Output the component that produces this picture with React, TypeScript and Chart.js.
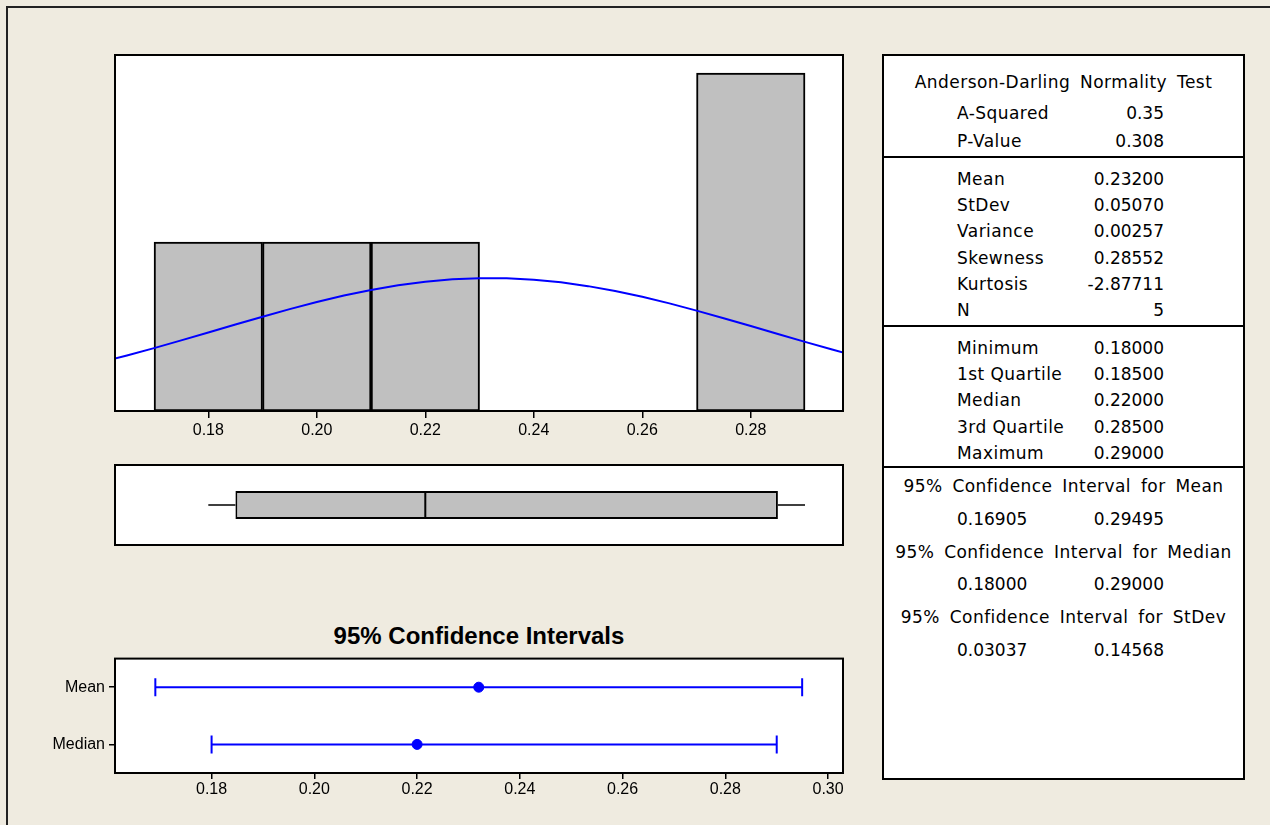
import React, { useEffect, useRef } from "react";
import { Chart, registerables } from "chart.js";
Chart.register(...registerables);

// ---------- data ----------
const binCenters = [0.18, 0.2, 0.22, 0.24, 0.26, 0.28];
const binCounts = [1, 1, 1, 0, 0, 2];
const curveX = [0.16, 0.165, 0.17, 0.175, 0.18, 0.185, 0.19, 0.195, 0.2, 0.205, 0.21, 0.215, 0.22, 0.225, 0.23, 0.235, 0.24, 0.245, 0.25, 0.255, 0.26, 0.265, 0.27, 0.275, 0.28, 0.285, 0.29, 0.295, 0.3];
const curveY = [0.287, 0.329, 0.372, 0.418, 0.465, 0.512, 0.558, 0.603, 0.645, 0.683, 0.716, 0.744, 0.765, 0.78, 0.786, 0.786, 0.777, 0.762, 0.739, 0.71, 0.676, 0.637, 0.594, 0.549, 0.503, 0.456, 0.409, 0.364, 0.32];
const histTicks = [0.18, 0.2, 0.22, 0.24, 0.26, 0.28];
const boxStats = [0.18, 0.185, 0.22, 0.285, 0.29]; // min, Q1, median, Q3, max
const ciLabels = ["Mean", "Median"];
const ciLower = [0.16905, 0.18];
const ciUpper = [0.29495, 0.29];
const ciEstimate = [0.232, 0.22];
const ciTicks = [0.18, 0.2, 0.22, 0.24, 0.26, 0.28, 0.3];

const adTitle = "Anderson-Darling Normality Test";
const adLabels = ["A-Squared", "P-Value"];
const adValues = ["0.35", "0.308"];
const descLabels = ["Mean", "StDev", "Variance", "Skewness", "Kurtosis", "N"];
const descValues = ["0.23200", "0.05070", "0.00257", "0.28552", "-2.87711", "5"];
const quantLabels = ["Minimum", "1st Quartile", "Median", "3rd Quartile", "Maximum"];
const quantValues = ["0.18000", "0.18500", "0.22000", "0.28500", "0.29000"];
const ciTableTitles = ["95% Confidence Interval for Mean", "95% Confidence Interval for Median", "95% Confidence Interval for StDev"];
const ciTableLower = ["0.16905", "0.18000", "0.03037"];
const ciTableUpper = ["0.29495", "0.29000", "0.14568"];

// ---------- styles ----------
const BG = "#EFEBE0";
const BLUE = "#0000FF";
const GREY = "#C0C0C0";
const tickFont = { family: '"Liberation Sans", Arial, sans-serif', size: 16 };

const framePlugin = {
  id: "frame",
  beforeDraw(chart: any) {
    const { ctx, chartArea: a } = chart;
    ctx.save();
    ctx.fillStyle = "#fff";
    ctx.fillRect(a.left, a.top, a.right - a.left, a.bottom - a.top);
    ctx.restore();
  },
  afterDraw(chart: any) {
    const { ctx, chartArea: a } = chart;
    ctx.save();
    ctx.strokeStyle = "#000";
    ctx.lineWidth = 2;
    ctx.strokeRect(a.left, a.top, a.right - a.left, a.bottom - a.top);
    ctx.restore();
  },
};

const boxPlugin = {
  id: "boxparts",
  afterDatasetsDraw(chart: any) {
    const { ctx } = chart;
    const xs = chart.scales.x;
    const bar = chart.getDatasetMeta(0).data[0];
    if (!bar) return;
    const y = bar.y;
    const h = bar.height;
    ctx.save();
    ctx.strokeStyle = "#000";
    ctx.lineWidth = 1.5;
    ctx.beginPath();
    ctx.moveTo(xs.getPixelForValue(boxStats[0]), y);
    ctx.lineTo(xs.getPixelForValue(boxStats[1]), y);
    ctx.moveTo(xs.getPixelForValue(boxStats[3]), y);
    ctx.lineTo(xs.getPixelForValue(boxStats[4]), y);
    ctx.stroke();
    ctx.lineWidth = 2;
    ctx.beginPath();
    const mx = xs.getPixelForValue(boxStats[2]);
    ctx.moveTo(mx, y - h / 2);
    ctx.lineTo(mx, y + h / 2);
    ctx.stroke();
    ctx.restore();
  },
};

const fmt2 = (v: any) => Number(v).toFixed(2);

function useChart(ref: React.RefObject<HTMLCanvasElement>, makeConfig: () => any) {
  useEffect(() => {
    if (!ref.current) return;
    const chart = new Chart(ref.current, makeConfig());
    return () => chart.destroy();
  }, []);
}

export default function App() {
  const histRef = useRef<HTMLCanvasElement>(null);
  const boxRef = useRef<HTMLCanvasElement>(null);
  const ciRef = useRef<HTMLCanvasElement>(null);

  useChart(histRef, () => ({
    type: "bar",
    data: {
      datasets: [
        {
          type: "line",
          data: curveX.map((x, i) => ({ x, y: curveY[i] })),
          borderColor: BLUE,
          borderWidth: 2,
          pointRadius: 0,
          tension: 0,
          order: 0,
        },
        {
          type: "bar",
          data: binCenters.map((x, i) => ({ x, y: binCounts[i] })),
          backgroundColor: GREY,
          borderColor: "#000",
          borderWidth: 2,
          borderSkipped: false,
          barPercentage: 1,
          categoryPercentage: 1,
          order: 1,
        },
      ],
    },
    options: {
      responsive: false,
      animation: false,
      events: [],
      layout: { padding: { left: 15, right: 17, top: 15, bottom: 9 } },
      plugins: { legend: { display: false }, tooltip: { enabled: false } },
      scales: {
        x: {
          type: "linear",
          min: 0.1628,
          max: 0.297,
          offset: false,
          afterBuildTicks: (s: any) => {
            s.ticks = histTicks.map((v) => ({ value: v }));
          },
          afterFit: (s: any) => {
            s.height = 40;
          },
          ticks: { callback: fmt2, font: tickFont, color: "#000", padding: 3, autoSkip: false, maxRotation: 0 },
          grid: { offset: false, drawOnChartArea: false, drawTicks: true, tickLength: 7, color: "#000", lineWidth: 1.5 },
          border: { display: false },
        },
        y: { display: false, min: 0, max: 2.107 },
      },
    },
    plugins: [framePlugin],
  }));

  useChart(boxRef, () => ({
    type: "bar",
    data: {
      labels: [""],
      datasets: [
        {
          data: [[boxStats[1], boxStats[3]]],
          backgroundColor: GREY,
          borderColor: "#000",
          borderWidth: 2,
          borderSkipped: false,
          barPercentage: 0.35,
          categoryPercentage: 1,
        },
      ],
    },
    options: {
      indexAxis: "y",
      responsive: false,
      animation: false,
      events: [],
      layout: { padding: { left: 15, right: 17, top: 15, bottom: 15 } },
      plugins: { legend: { display: false }, tooltip: { enabled: false } },
      scales: {
        x: { type: "linear", min: 0.1628, max: 0.297, display: false },
        y: { display: false },
      },
    },
    plugins: [framePlugin, boxPlugin],
  }));

  useChart(ciRef, () => ({
    type: "scatter",
    data: {
      datasets: [
        ...ciLabels.map((lab, i) => ({
          data: [
            { x: ciLower[i], y: lab },
            { x: ciUpper[i], y: lab },
          ],
          showLine: true,
          borderColor: BLUE,
          borderWidth: 2,
          pointStyle: "line",
          rotation: 90,
          pointRadius: 9,
          pointBorderColor: BLUE,
          pointBorderWidth: 2,
        })),
        {
          data: ciLabels.map((lab, i) => ({ x: ciEstimate[i], y: lab })),
          pointStyle: "circle",
          pointRadius: 5,
          backgroundColor: BLUE,
          borderColor: BLUE,
        },
      ],
    },
    options: {
      responsive: false,
      animation: false,
      events: [],
      layout: { padding: { left: 0, right: 17, top: 12, bottom: 6 } },
      plugins: { legend: { display: false }, tooltip: { enabled: false } },
      scales: {
        x: {
          type: "linear",
          min: 0.1612,
          max: 0.3029,
          afterBuildTicks: (s: any) => {
            s.ticks = ciTicks.map((v) => ({ value: v }));
          },
          afterFit: (s: any) => {
            s.height = 26;
          },
          ticks: { callback: fmt2, font: tickFont, color: "#000", padding: 1, autoSkip: false, maxRotation: 0 },
          grid: { drawOnChartArea: false, drawTicks: true, tickLength: 6, color: "#000", lineWidth: 1.5 },
          border: { display: false },
        },
        y: {
          type: "category",
          labels: ciLabels,
          offset: true,
          afterFit: (s: any) => {
            s.width = 105;
          },
          ticks: { font: tickFont, color: "#000", padding: 4 },
          grid: { offset: false, drawOnChartArea: false, drawTicks: true, tickLength: 6, color: "#000", lineWidth: 1.5 },
          border: { display: false },
        },
      },
    },
    plugins: [framePlugin],
  }));

  // ---------- stats table ----------
  const tFont = '"DejaVu Sans", Verdana, sans-serif';
  const INNER_L = 884;
  const INNER_T = 56;
  const LH = 20;
  const rows: React.ReactNode[] = [];
  const labelRow = (key: string, cy: number, label: string, value: string, spaced = true) => {
    rows.push(
      <div key={key + "l"} style={{ position: "absolute", left: 957 - INNER_L, top: cy - INNER_T - LH / 2, height: LH, lineHeight: LH + "px", whiteSpace: "nowrap", letterSpacing: spaced ? "0.45px" : "0px" }}>{label}</div>
    );
    rows.push(
      <div key={key + "v"} style={{ position: "absolute", left: 0, width: 1164 - INNER_L, textAlign: "right", top: cy - INNER_T - LH / 2, height: LH, lineHeight: LH + "px", whiteSpace: "nowrap" }}>{value}</div>
    );
  };
  const centerRow = (key: string, cy: number, text: string) => {
    rows.push(
      <div key={key} style={{ position: "absolute", left: -10, right: -10, textAlign: "center", top: cy - INNER_T - LH / 2, height: LH, lineHeight: LH + "px", whiteSpace: "nowrap", letterSpacing: "0.45px", wordSpacing: "4px" }}>{text}</div>
    );
  };
  centerRow("adt", 82, adTitle);
  adLabels.forEach((l, i) => labelRow("ad" + i, 113 + i * 28, l, adValues[i]));
  descLabels.forEach((l, i) => labelRow("ds" + i, 179 + i * 26.2, l, descValues[i]));
  quantLabels.forEach((l, i) => labelRow("qt" + i, 348 + i * 26.2, l, quantValues[i]));
  ciTableTitles.forEach((t, i) => {
    const cy = 486 + i * 65.5;
    centerRow("cit" + i, cy, t);
    labelRow("civ" + i, cy + 32.5, ciTableLower[i], ciTableUpper[i], false);
  });
  [157, 326, 467].forEach((y, i) =>
    rows.push(<div key={"div" + i} style={{ position: "absolute", left: 0, right: 0, top: y - 1 - INNER_T, height: 2, background: "#000" }} />)
  );

  return (
    <div style={{ position: "absolute", left: 0, top: 0, width: 1270, height: 825, background: BG, overflow: "hidden" }}>
      <div style={{ position: "absolute", left: 6, top: 6, width: 1300, height: 900, borderLeft: "2px solid #222", borderTop: "2px solid #222" }} />
      <canvas ref={histRef} width={760} height={420} style={{ position: "absolute", left: 100, top: 40 }} />
      <canvas ref={boxRef} width={760} height={110} style={{ position: "absolute", left: 100, top: 450 }} />
      <div style={{ position: "absolute", left: 115, width: 728, top: 622, height: 28, lineHeight: "28px", textAlign: "center", fontFamily: '"Liberation Sans", Arial, sans-serif', fontWeight: "bold", fontSize: 24, color: "#000" }}>
        95% Confidence Intervals
      </div>
      <canvas ref={ciRef} width={850} height={160} style={{ position: "absolute", left: 10, top: 645 }} />
      <div style={{ position: "absolute", left: 882, top: 54, width: 363, height: 726, border: "2px solid #000", boxSizing: "border-box", background: "#fff", fontFamily: tFont, fontSize: 17, color: "#000" }}>
        {rows}
      </div>
    </div>
  );
}
